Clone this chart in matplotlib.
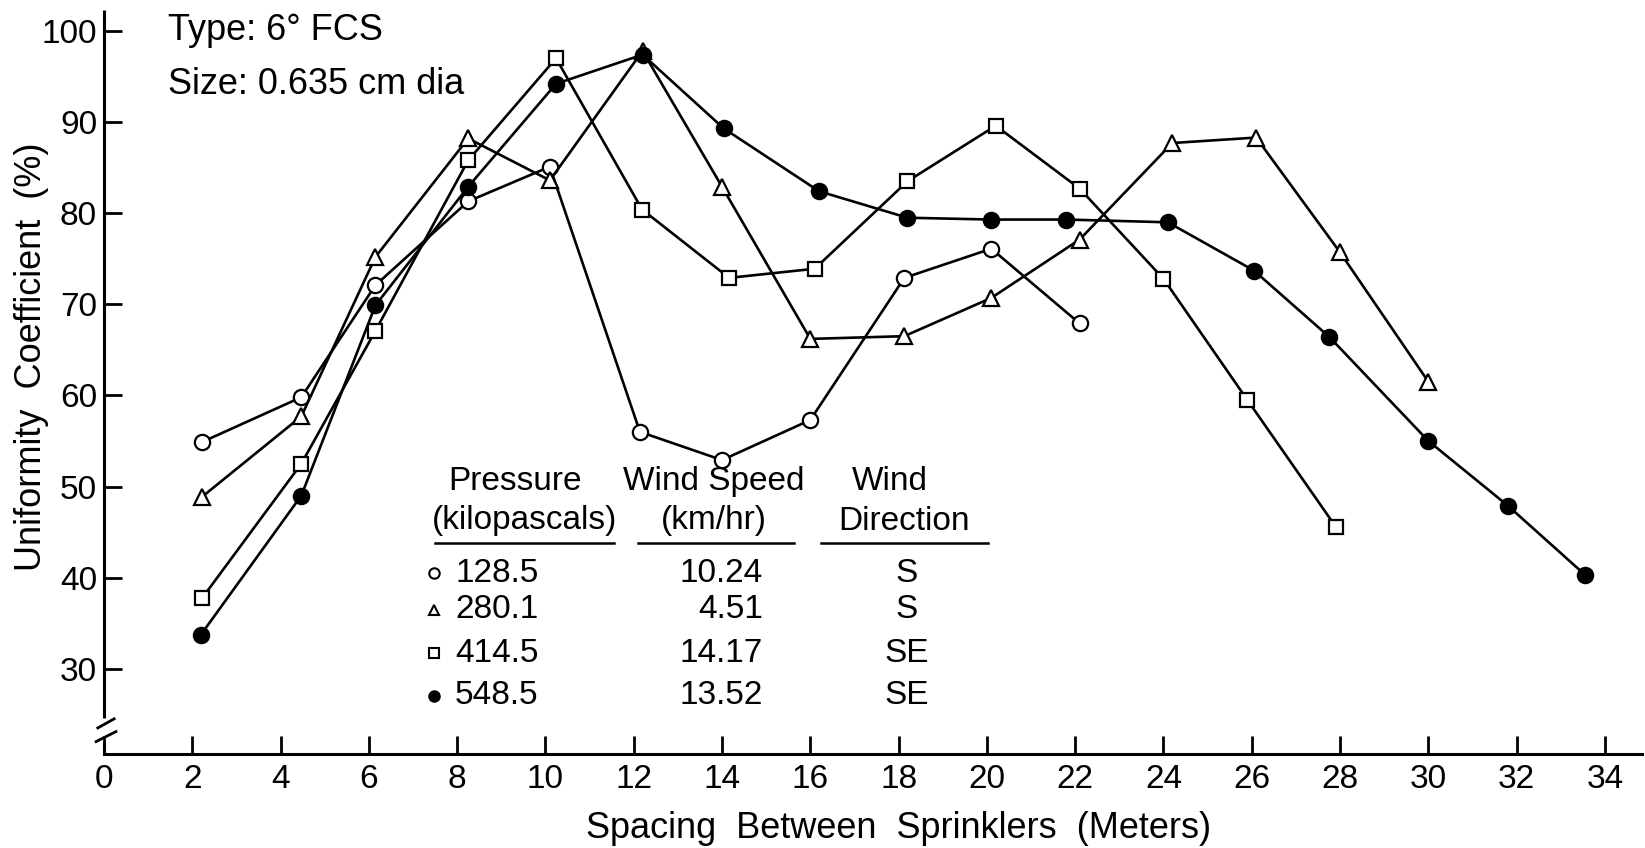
import matplotlib
matplotlib.use('Agg')
import matplotlib.pyplot as plt

plt.rcParams['font.family'] = ['Liberation Sans', 'DejaVu Sans']

# values
x_128 = [2.23, 4.47, 6.15, 8.25, 10.1, 12.14, 14.0, 16.0, 18.13, 20.1, 22.1]
uc_128 = [54.9, 59.8, 72.1, 81.3, 85.1, 56.0, 52.9, 57.3, 72.9, 76.1, 67.9]

x_280 = [2.23, 4.47, 6.15, 8.25, 10.1, 12.2, 14.0, 16.0, 18.13, 20.1, 22.1, 24.2, 26.1, 28.0, 30.0]
uc_280 = [48.9, 57.7, 75.2, 88.2, 83.6, 97.8, 82.9, 66.2, 66.5, 70.7, 77.1, 87.7, 88.3, 75.7, 61.5]

x_414 = [2.23, 4.47, 6.15, 8.25, 10.24, 12.19, 14.16, 16.1, 18.2, 20.2, 22.1, 24.0, 25.9, 27.9]
uc_414 = [37.8, 52.5, 67.1, 85.8, 97.0, 80.4, 72.9, 73.9, 83.5, 89.6, 82.7, 72.8, 59.5, 45.6]

x_548 = [2.19, 4.47, 6.15, 8.25, 10.24, 12.2, 14.04, 16.2, 18.2, 20.1, 21.8, 24.1, 26.05, 27.76, 30.0, 31.8, 33.55]
uc_548 = [33.7, 49.0, 69.9, 82.9, 94.2, 97.4, 89.3, 82.4, 79.5, 79.3, 79.3, 79.0, 73.7, 66.4, 55.0, 47.9, 40.3]

pressure = ['128.5', '280.1', '414.5', '548.5']
wind_speed = ['10.24', '4.51', '14.17', '13.52']
wind_dir = ['S', 'S', 'SE', 'SE']
markers = ['o', '^', 's', 'o']
fills = ['white', 'white', 'white', 'black']

x_ticks = list(range(0, 36, 2))
y_ticks = list(range(30, 101, 10))

W, H = 1645, 848


def fx(px):
    return px / W


def fy(py):
    return 1 - py / H


fig = plt.figure(figsize=(W / 100, H / 100), dpi=100)
ax = fig.add_axes([fx(104), fy(754), (1642 - 104) / W, (754 - 10) / H])
ax.set_xlim(0, 34.84)
ax.set_ylim(20.64, 102.3)

series = [(x_128, uc_128), (x_280, uc_280), (x_414, uc_414), (x_548, uc_548)]
msize = [11, 11.5, 10, 11]
for (xs, ys), m, fc, ms in zip(series, markers, fills, msize):
    ax.plot(xs, ys, color='black', lw=1.9, marker=m, ms=ms,
            mfc=fc, mec='black', mew=1.6, clip_on=False)

# axes frame: broken y axis
for s in ['top', 'right', 'left']:
    ax.spines[s].set_visible(False)
ax.spines['bottom'].set_linewidth(2.2)
ax.plot([0, 0], [24.6, 102.3], color='black', lw=2.2, clip_on=False, solid_capstyle='butt')
ax.plot([0, 0], [20.64, 22.0], color='black', lw=2.2, clip_on=False, solid_capstyle='butt')
ax.plot([-0.14, 0.23], [23.5, 24.5], color='black', lw=2.0, clip_on=False)
ax.plot([-0.18, 0.27], [22.0, 23.1], color='black', lw=2.0, clip_on=False)

ax.set_xticks(x_ticks)
ax.set_yticks(y_ticks)
ax.tick_params(axis='both', direction='in', length=13, width=2, labelsize=24, colors='black')
ax.tick_params(axis='x', pad=7)
ax.tick_params(axis='y', pad=5)

fig.text(fx(899), fy(829), 'Spacing  Between  Sprinklers  (Meters)', fontsize=26,
         ha='center', va='center')
fig.text(fx(32), fy(357), 'Uniformity  Coefficient  (%)', fontsize=26,
         ha='center', va='center', rotation=90)

fig.text(fx(168), fy(31), 'Type: 6° FCS', fontsize=26, ha='left', va='center')
fig.text(fx(168), fy(84), 'Size: 0.635 cm dia', fontsize=26, ha='left', va='center')

# legend table
fs = 24
fig.text(fx(515), fy(481), 'Pressure', fontsize=fs, ha='center', va='center')
fig.text(fx(525), fy(521), '(kilopascals)', fontsize=fs, ha='center', va='center')
fig.text(fx(714), fy(481), 'Wind Speed', fontsize=fs, ha='center', va='center')
fig.text(fx(714), fy(521), '(km/hr)', fontsize=fs, ha='center', va='center')
fig.text(fx(890), fy(481), 'Wind', fontsize=fs, ha='center', va='center')
fig.text(fx(904), fy(521), 'Direction', fontsize=fs, ha='center', va='center')
for x0, x1 in [(435, 614), (638, 794), (821, 988)]:
    ax.plot([fx(x0), fx(x1)], [fy(543), fy(543)], color='black', lw=1.8,
            transform=fig.transFigure, clip_on=False)

row_y = [573, 610, 653, 696]
for yy, p, w, d, m, fc in zip(row_y, pressure, wind_speed, wind_dir, markers, fills):
    ax.plot([fx(434)], [fy(yy)], marker=m, ms=7.5, mfc=fc, mec='black', mew=1.5,
            transform=fig.transFigure, clip_on=False)
    fig.text(fx(455), fy(yy), p, fontsize=fs, ha='left', va='center')
    fig.text(fx(763), fy(yy), w, fontsize=fs, ha='right', va='center')
    fig.text(fx(907), fy(yy), d, fontsize=fs, ha='center', va='center')

fig.savefig('out.png', dpi=100)
